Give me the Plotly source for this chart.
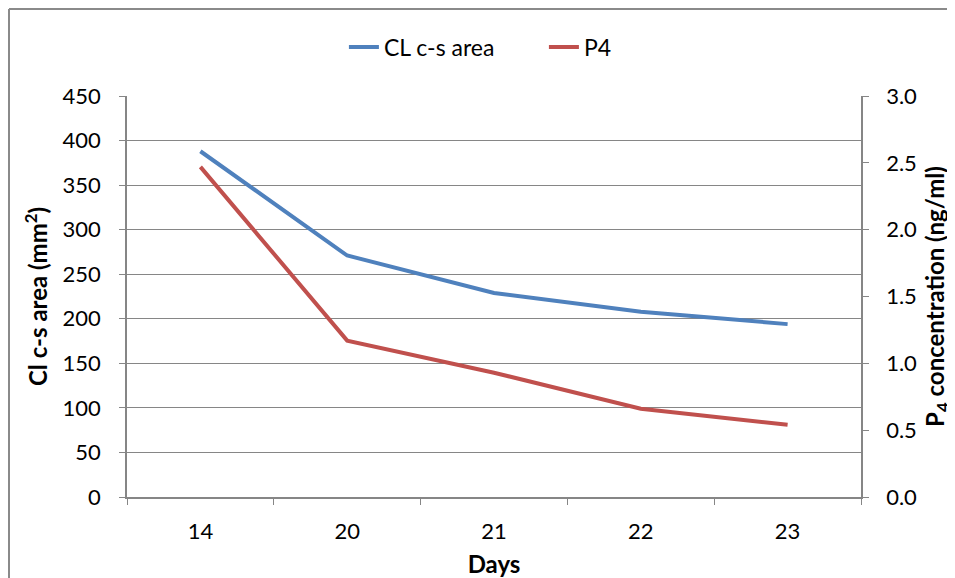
import plotly.graph_objects as go

days = ["14", "20", "21", "22", "23"]
cl_area = [388, 271, 229, 208, 194]
p4_conc = [2.47, 1.17, 0.93, 0.66, 0.54]

FONT = "Lato"
GRID = "#868686"
FS = 22      # tick labels
FL = 23      # legend
FT = 24      # axis titles

fig = go.Figure()
fig.add_trace(go.Scatter(x=days, y=cl_area, name="CL c-s area", mode="lines",
                         line=dict(color="#4F81BD", width=4)))
fig.add_trace(go.Scatter(x=days, y=p4_conc, name="P4", mode="lines", yaxis="y2",
                         line=dict(color="#C0504D", width=4)))

# page body adds ~8px offset; compensate in margins
OFF = 8
W, H = 955, 578
L, T = 127 - OFF, 96 - OFF
R = W - (861 - OFF)
B = H - (497 - OFF)
pw, ph = W - L - R, H - T - B

fig.update_layout(
    width=W, height=H,
    margin=dict(l=L, r=R, t=T, b=B, pad=0, autoexpand=False),
    paper_bgcolor="white", plot_bgcolor="white",
    font=dict(family=FONT, size=FS, color="black"),
    showlegend=True,
    legend=dict(orientation="h", x=0.568, xanchor="center", y=1 + (96 - 47) / ph,
                yanchor="middle", font=dict(size=FL), entrywidth=155,
                entrywidthmode="pixels", bgcolor="rgba(0,0,0,0)"),
    xaxis=dict(type="category", range=[-0.5, 4.5], automargin=False,
               showline=True, linecolor=GRID, linewidth=1.5,
               ticks="outside", ticklen=6, tickcolor=GRID, tickson="boundaries",
               ticklabelstandoff=14,
               showgrid=False, title=dict(text="<b>Days</b>", font=dict(size=FT), standoff=13),
               tickfont=dict(size=FS)),
    yaxis=dict(range=[0, 450], dtick=50, showline=True, linecolor=GRID, linewidth=1.5,
               automargin=False, ticklabelstandoff=14,
               ticks="outside", ticklen=6, tickcolor=GRID, showgrid=True, gridcolor=GRID,
               gridwidth=1, zeroline=False,
               title=dict(text="<b>Cl c-s area (mm<sup>2</sup>)</b>", font=dict(size=FT), standoff=8),
               tickfont=dict(size=FS)),
    yaxis2=dict(range=[0, 3.0], dtick=0.5, tickformat=".1f", overlaying="y", side="right",
                automargin=False, ticklabelstandoff=13,
                showline=True, linecolor=GRID, linewidth=1.5, ticks="outside", ticklen=6,
                tickcolor=GRID, showgrid=False, zeroline=False,
                title=dict(text="<b>P<sub>4</sub> concentration (ng/ml)</b>", font=dict(size=FT), standoff=11),
                tickfont=dict(size=FS)),
)

# outer chart border (left and top only visible)
x_left = (1.0 - L) / pw
y_top = 1 + (T - 1.0) / ph
fig.add_shape(type="line", xref="paper", yref="paper", x0=x_left, x1=x_left,
              y0=y_top, y1=-(B + 5) / ph, line=dict(color="#8a8a8a", width=2))
fig.add_shape(type="line", xref="paper", yref="paper", x0=x_left, x1=(W + 5 - L) / pw,
              y0=y_top, y1=y_top, line=dict(color="#8a8a8a", width=2))

fig.write_html("out.html")
